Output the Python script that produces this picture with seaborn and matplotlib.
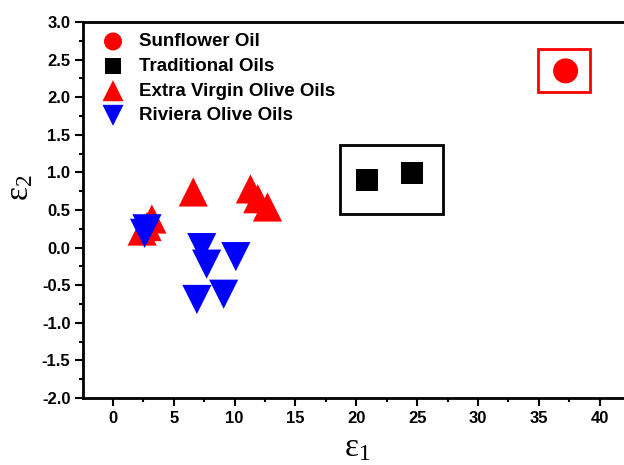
import matplotlib
matplotlib.use("Agg")
import matplotlib.pyplot as plt
from matplotlib.patches import Rectangle
from matplotlib.ticker import MultipleLocator
import seaborn as sns
import pandas as pd

sns.set_style("white")
plt.rcParams['font.family'] = ['Liberation Sans', 'DejaVu Sans']
plt.rcParams['mathtext.fontset'] = 'custom'
plt.rcParams['mathtext.rm'] = 'Liberation Serif'
plt.rcParams['mathtext.it'] = 'Liberation Serif'
plt.rcParams['text.color'] = 'black'
plt.rcParams['axes.labelcolor'] = 'black'
plt.rcParams['xtick.color'] = 'black'
plt.rcParams['ytick.color'] = 'black'

# Data
sunflower_x = [37.2]
sunflower_y = [2.35]
traditional_x = [20.9, 24.6]
traditional_y = [0.90, 0.99]
evoo_x = [6.6, 11.3, 11.9, 12.7, 3.2, 2.4, 2.8]
evoo_y = [0.74, 0.78, 0.65, 0.54, 0.38, 0.22, 0.28]
riviera_x = [2.6, 2.8, 7.3, 7.7, 10.1, 6.9, 9.1]
riviera_y = [0.19, 0.25, 0.00, -0.22, -0.12, -0.69, -0.62]

labels = ["Sunflower Oil", "Traditional Oils", "Extra Virgin Olive Oils", "Riviera Olive Oils"]
xticks = [0, 5, 10, 15, 20, 25, 30, 35, 40]
yticks = [-2.0, -1.5, -1.0, -0.5, 0.0, 0.5, 1.0, 1.5, 2.0, 2.5, 3.0]

# boxes (data extents)
red_box = (34.9, 2.07, 4.3, 0.57)
black_box = (18.7, 0.45, 8.4, 0.91)

fig = plt.figure(figsize=(6.24, 4.65), dpi=100)
ax = fig.add_axes([83/624, 67/465, 541/624, 376/465])

groups = [
    (sunflower_x, sunflower_y, labels[0], 'o', '#ff0000', 324),
    (traditional_x, traditional_y, labels[1], 's', '#000000', 250),
    (evoo_x, evoo_y, labels[2], '^', '#ff0000', 441),
    (riviera_x, riviera_y, labels[3], 'v', '#0000ff', 441),
]
for xs, ys, lab, mk, col, s in groups:
    df = pd.DataFrame({"x": xs, "y": ys})
    sns.scatterplot(data=df, x="x", y="y", ax=ax, marker=mk, color=col, s=s,
                    edgecolor='none', linewidth=0, label=lab, zorder=3)

ax.add_patch(Rectangle(red_box[:2], red_box[2], red_box[3], fill=False,
                       edgecolor='#ff0000', linewidth=2, zorder=2))
ax.add_patch(Rectangle(black_box[:2], black_box[2], black_box[3], fill=False,
                       edgecolor='#000000', linewidth=2, zorder=2))

ax.set_xlim(-2.46, 42.0)
ax.set_ylim(-2.0, 3.0)
ax.set_xticks(xticks)
ax.set_yticks(yticks)
ax.set_xticklabels([str(t) for t in xticks])
ax.set_yticklabels([f"{t:.1f}" for t in yticks])
ax.xaxis.set_minor_locator(MultipleLocator(2.5))
ax.yaxis.set_minor_locator(MultipleLocator(0.25))
ax.tick_params(which='major', direction='out', length=6, width=1.5, labelsize=12,
               bottom=True, left=True, top=False, right=False, pad=3,
               colors='black')
ax.tick_params(which='minor', direction='out', length=3, width=1.5,
               bottom=True, left=True, top=False, right=False, colors='black')
for lab in ax.get_xticklabels() + ax.get_yticklabels():
    lab.set_fontweight('bold')

for side in ['left', 'bottom', 'top']:
    ax.spines[side].set_linewidth(2)
    ax.spines[side].set_color('black')
ax.spines['right'].set_visible(False)

ax.set_xlabel(r'$\mathrm{\varepsilon}_{1}$', fontsize=24, color='black')
ax.set_ylabel(r'$\mathrm{\varepsilon}_{2}$', fontsize=24, color='black')
ax.xaxis.set_label_coords((357 - 83) / 541, (398 - 448) / 376)
ax.yaxis.set_label_coords((20 - 83) / 541, (398 - 188) / 376)
ax.xaxis.label.set_va('center')
ax.yaxis.label.set_va('center')

leg = ax.legend(loc='upper left', bbox_to_anchor=(0.0, 1.0), frameon=False,
                markerscale=0.72, prop={'weight': 'bold', 'size': 13.5},
                handletextpad=0.4, labelspacing=0.4, borderaxespad=0.2)
for t in leg.get_texts():
    t.set_color('black')

fig.savefig("out.png", dpi=100)
